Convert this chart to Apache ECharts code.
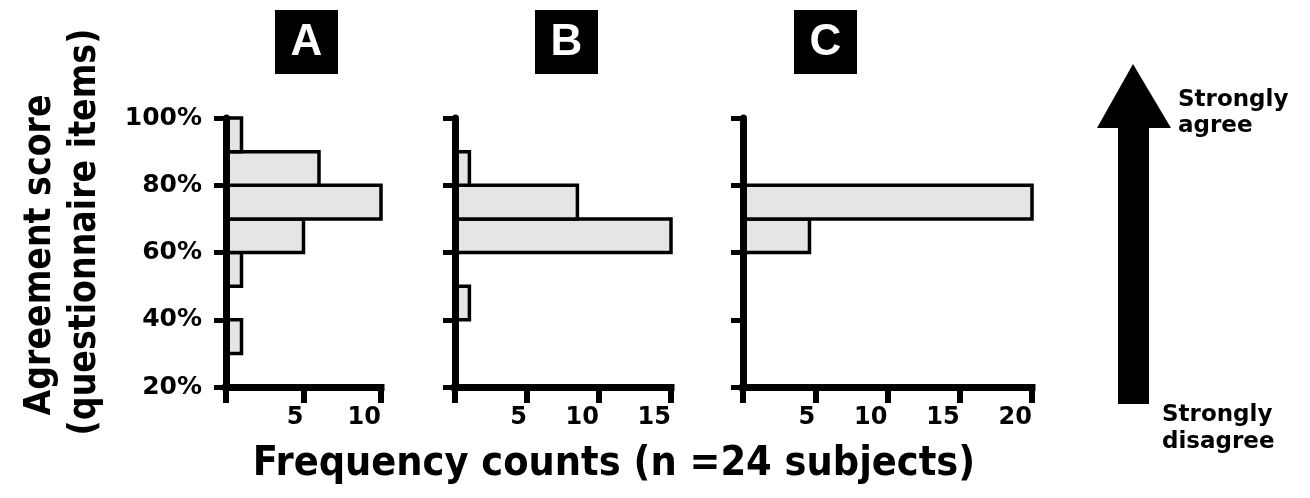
<!DOCTYPE html>
<html>
<head>
<meta charset="utf-8">
<script src="https://cdn.jsdelivr.net/npm/echarts@6/dist/echarts.min.js"></script>
<style>html,body{margin:0;padding:0;background:#fff;}#c{width:1310px;height:498px;}</style>
</head>
<body>
<div id="c"></div>
<script>
// ---- data ----
const binLow = [20, 30, 40, 50, 60, 70, 80, 90];
const binWidth = 10;
const countsA = [0, 1, 0, 1, 5, 10, 6, 1];
const countsB = [0, 0, 1, 0, 15, 8.5, 1, 0];
const countsC = [0, 0, 0, 0, 4.6, 20, 0, 0];
const panelNames = ['A', 'B', 'C'];
const xMaxes = [10, 15, 20];
const yTicks = [20, 40, 60, 80, 100];
const yTitle1 = 'Agreement score';
const yTitle2 = '(questionnaire items)';
const xTitle = 'Frequency counts (n =24 subjects)';
const topLabel = ['Strongly', 'agree'];
const bottomLabel = ['Strongly', 'disagree'];

const FONT = '"DejaVu Sans", Verdana, sans-serif';
const CFONT = '"DejaVu Sans Condensed", "DejaVu Sans", sans-serif';
const chart = echarts.init(document.getElementById('c'), null, {renderer: 'canvas'});

const grids = [
  {left: 226, top: 118, width: 155, height: 269},
  {left: 455, top: 118, width: 216, height: 269},
  {left: 743, top: 118, width: 289, height: 269}
];
const allCounts = [countsA, countsB, countsC];

function mkData(counts) {
  const out = [];
  counts.forEach((c, i) => { if (c > 0) out.push([binLow[i], binLow[i] + binWidth, c]); });
  return out;
}

const xAxes = [], yAxes = [], series = [];
grids.forEach((g, i) => {
  xAxes.push({
    gridIndex: i, type: 'value', min: 0, max: xMaxes[i], interval: 5, z: 10,
    splitLine: {show: false},
    axisLine: {show: true, onZero: false, lineStyle: {color: '#000', width: 7, cap: 'square'}},
    axisTick: {show: true, inside: false, length: 16, lineStyle: {color: '#000', width: 6}},
    axisLabel: {
      show: true, margin: 19, color: '#000', fontFamily: FONT, fontWeight: 'bold', fontSize: 24,
      align: 'right', formatter: v => (v === 0 ? '' : String(v))
    }
  });
  yAxes.push({
    gridIndex: i, type: 'value', min: 20, max: 100, interval: 20, z: 10,
    splitLine: {show: false},
    axisLine: {show: true, onZero: false, lineStyle: {color: '#000', width: 7}},
    axisTick: {show: true, inside: false, length: 12, lineStyle: {color: '#000', width: 5}},
    axisLabel: {
      show: i === 0, margin: 24, color: '#000', fontFamily: FONT, fontWeight: 'bold', fontSize: 25,
      formatter: v => (yTicks.indexOf(v) >= 0 ? v + '%' : '')
    }
  });
  series.push({
    type: 'custom', xAxisIndex: i, yAxisIndex: i, z: 2,
    encode: {x: 2, y: [0, 1]},
    data: mkData(allCounts[i]),
    renderItem: function (params, api) {
      const lo = api.value(0), hi = api.value(1), c = api.value(2);
      const p1 = api.coord([0, hi]);
      const p2 = api.coord([c, lo]);
      return {
        type: 'rect',
        shape: {x: p1[0], y: p1[1], width: p2[0] - p1[0], height: p2[1] - p1[1]},
        style: {fill: '#e5e5e5', stroke: '#000', lineWidth: 3.5}
      };
    }
  });
});

const boxX = [275, 535, 794];
const graphics = [];
panelNames.forEach((n, i) => {
  graphics.push({type: 'rect', shape: {x: boxX[i], y: 10, width: 63, height: 64}, style: {fill: '#000'}});
  graphics.push({type: 'text', x: boxX[i] + 31.5, y: 43, style: {
    text: n, fill: '#fff', font: 'bold 44px "Liberation Sans", Arial, sans-serif',
    textAlign: 'center', textVerticalAlign: 'middle'}});
});
// y title
graphics.push({type: 'text', x: 40, y: 255, rotation: Math.PI / 2, style: {
  text: yTitle1, fill: '#000', font: 'bold 37px ' + CFONT, textAlign: 'center', textVerticalAlign: 'middle'}});
graphics.push({type: 'text', x: 85, y: 232, rotation: Math.PI / 2, style: {
  text: yTitle2, fill: '#000', font: 'bold 37px ' + CFONT, textAlign: 'center', textVerticalAlign: 'middle'}});
// x title
graphics.push({type: 'text', x: 614, y: 464, style: {
  text: xTitle, fill: '#000', font: 'bold 41px ' + CFONT, textAlign: 'center', textVerticalAlign: 'middle'}});
// arrow
graphics.push({type: 'polygon', shape: {points: [[1133, 64], [1171, 128], [1149, 128], [1149, 404], [1118, 404], [1118, 128], [1097, 128]]}, style: {fill: '#000'}});
graphics.push({type: 'text', x: 1178, y: 100, style: {text: topLabel[0], fill: '#000', font: 'bold 23px ' + FONT, textVerticalAlign: 'middle'}});
graphics.push({type: 'text', x: 1178, y: 126, style: {text: topLabel[1], fill: '#000', font: 'bold 23px ' + FONT, textVerticalAlign: 'middle'}});
graphics.push({type: 'text', x: 1162, y: 415, style: {text: bottomLabel[0], fill: '#000', font: 'bold 23px ' + FONT, textVerticalAlign: 'middle'}});
graphics.push({type: 'text', x: 1162, y: 442, style: {text: bottomLabel[1], fill: '#000', font: 'bold 23px ' + FONT, textVerticalAlign: 'middle'}});

chart.setOption({
  animation: false,
  backgroundColor: '#fff',
  grid: grids,
  xAxis: xAxes,
  yAxis: yAxes,
  series: series,
  graphic: graphics
});
</script>
</body>
</html>
